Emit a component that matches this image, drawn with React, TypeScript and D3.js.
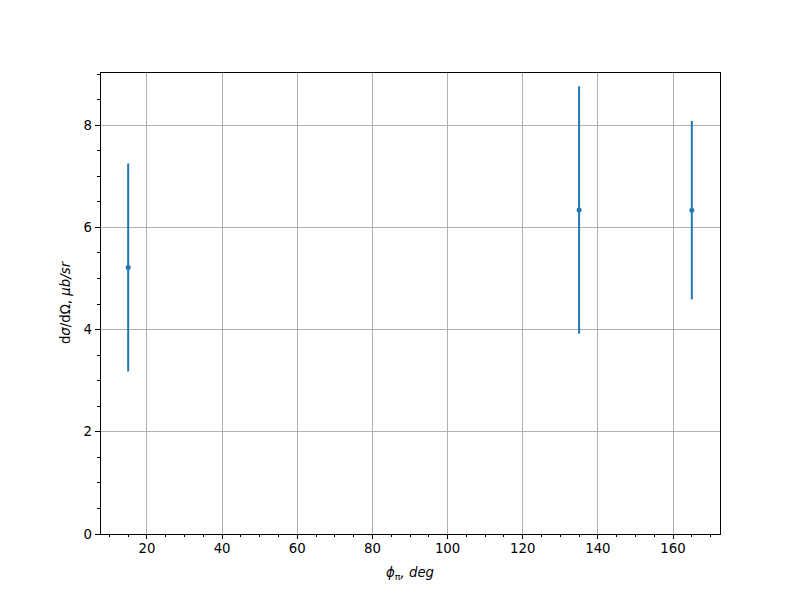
import React from "react";
import * as d3 from "d3";

const phi: number[] = [15, 135, 165];
const sigma: number[] = [5.215, 6.34, 6.335];
const err: number[] = [2.035, 2.42, 1.745];
const xTicks: number[] = [20, 40, 60, 80, 100, 120, 140, 160];
const yTicks: number[] = [0, 2, 4, 6, 8];

const W = 800, H = 600;
const L = 100, R = 720, T = 72, B = 534;
const BLUE = "#1f77b4";
const FONT = "DejaVu Sans";

export default function App() {
  const x = d3.scaleLinear().domain([7.5, 172.5]).range([L, R]);
  const y = d3.scaleLinear().domain([0, 9.04]).range([B, T]);
  const xMinor = d3.range(10, 172, 5).filter((v) => v % 20 !== 0);
  const yMinor = d3.range(0.5, 9.04, 0.5).filter((v) => Math.abs(v % 2) > 1e-9);

  return (
    <svg width={W} height={H} style={{ position: "absolute", left: 0, top: 0 }} fontFamily={FONT}>
      <rect x={0} y={0} width={W} height={H} fill="white" />
      {/* grid */}
      <g shapeRendering="crispEdges">
        {xTicks.map((t) => (
          <line key={"gx" + t} x1={x(t)} x2={x(t)} y1={T} y2={B} stroke="#b0b0b0" strokeWidth={1} />
        ))}
        {yTicks.map((t) => (
          <line key={"gy" + t} x1={L} x2={R} y1={y(t)} y2={y(t)} stroke="#b0b0b0" strokeWidth={1} />
        ))}
      </g>
      {/* error bars */}
      {phi.map((p, i) => (
        <g key={"e" + i}>
          <line x1={x(p)} x2={x(p)} y1={y(sigma[i] - err[i])} y2={y(sigma[i] + err[i])} stroke={BLUE} strokeWidth={2} />
          <circle cx={x(p)} cy={y(sigma[i])} r={2.5} fill={BLUE} />
        </g>
      ))}
      <g shapeRendering="crispEdges">
        {/* spines */}
        <rect x={L} y={T} width={R - L} height={B - T} fill="none" stroke="black" strokeWidth={1} />
        {xTicks.map((t) => (
          <line key={"xt" + t} x1={x(t)} x2={x(t)} y1={B} y2={B + 4.9} stroke="black" strokeWidth={1} />
        ))}
        {xMinor.map((t) => (
          <line key={"xm" + t} x1={x(t)} x2={x(t)} y1={B} y2={B + 2.8} stroke="black" strokeWidth={1} />
        ))}
        {yTicks.map((t) => (
          <line key={"yt" + t} x1={L - 4.9} x2={L} y1={y(t)} y2={y(t)} stroke="black" strokeWidth={1} />
        ))}
        {yMinor.map((t) => (
          <line key={"ym" + t} x1={L - 2.8} x2={L} y1={y(t)} y2={y(t)} stroke="black" strokeWidth={1} />
        ))}
      </g>
      {xTicks.map((t) => (
        <text key={"xl" + t} x={x(t)} y={B + 19} textAnchor="middle" fontSize={13.3} fill="black">{t}</text>
      ))}
      {yTicks.map((t) => (
        <text key={"yl" + t} x={L - 8} y={y(t)} dy="0.35em" textAnchor="end" fontSize={13.3} fill="black">{t}</text>
      ))}
      {/* x label */}
      <text x={(L + R) / 2} y={577} textAnchor="middle" fontSize={13.3} fill="black">
        <tspan fontStyle="italic">ϕ</tspan>
        <tspan fontSize={9.5} dy={3}>π</tspan>
        <tspan fontStyle="italic" dy={-3}>, deg</tspan>
      </text>
      {/* y label */}
      <text transform={`translate(70, ${(T + B) / 2}) rotate(-90)`} textAnchor="middle" fontSize={13.3} fill="black">
        <tspan>d</tspan>
        <tspan fontStyle="italic">σ</tspan>
        <tspan>/dΩ, </tspan>
        <tspan fontStyle="italic">μb/sr</tspan>
      </text>
    </svg>
  );
}
